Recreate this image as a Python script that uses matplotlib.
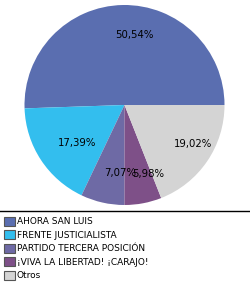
import numpy as np
import matplotlib.pyplot as plt
from matplotlib.patches import Patch
from matplotlib.lines import Line2D

labels = ['AHORA SAN LUIS', 'FRENTE JUSTICIALISTA', 'PARTIDO TERCERA POSICIÓN',
          '¡VIVA LA LIBERTAD! ¡CARAJO!', 'Otros']
values = [50.54, 17.39, 7.07, 5.98, 19.02]
pct_text = ['50,54%', '17,39%', '7,07%', '5,98%', '19,02%']
colors = ['#5A6EB0', '#33BEEE', '#6E6AA5', '#7E5088', '#D4D4D4']

plt.rcParams['font.family'] = 'DejaVu Sans'
fig = plt.figure(figsize=(2.5, 2.85), dpi=100)
ax = fig.add_axes([24.5/250, 80/285, 200/250, 200/285])

wedges, _ = ax.pie(values, colors=colors, startangle=0, counterclock=True,
                   radius=1, wedgeprops=dict(linewidth=0))
ax.set_xlim(-1, 1)
ax.set_ylim(-1, 1)
ax.set_aspect('equal')
ax.axis('off')

# percentage labels, a bit right of the wedge middle like the original
for w, t in zip(wedges, pct_text):
    mid = np.deg2rad((w.theta1 + w.theta2) / 2)
    ax.text(0.7*np.cos(mid) + 0.11, 0.7*np.sin(mid), t,
            ha='center', va='center', fontsize=7.3, color='black')

# separator line above the legend
fig.add_artist(Line2D([0, 1], [1 - 211/285, 1 - 211/285], color='black', lw=1))

handles = [Patch(facecolor=c, edgecolor='#555555', linewidth=0.8) for c in colors]
fig.legend(handles, labels, loc='upper left', bbox_to_anchor=(0.0, 1 - 213/285),
           frameon=False, fontsize=6.5, handlelength=1.25, handleheight=1.15,
           handletextpad=0.2, labelspacing=0.44, borderpad=0.2, borderaxespad=0.2)

fig.savefig('out.png', dpi=100)
